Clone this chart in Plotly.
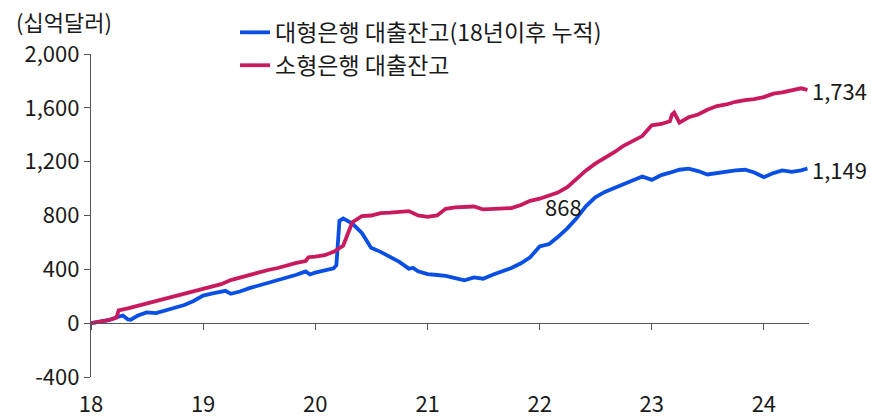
import plotly.graph_objects as go

# ---- data ----
large_dates = [
    "2018-01-01", "2018-02-01", "2018-03-01", "2018-03-20", "2018-04-01", "2018-04-15",
    "2018-05-01", "2018-05-10", "2018-06-01", "2018-07-01", "2018-08-01", "2018-09-01",
    "2018-10-01", "2018-11-01", "2018-12-01", "2019-01-01", "2019-02-01", "2019-03-01",
    "2019-03-15", "2019-04-01", "2019-05-01", "2019-06-01", "2019-07-01", "2019-08-01",
    "2019-09-01", "2019-10-01", "2019-11-01", "2019-12-01", "2019-12-15", "2020-01-01",
    "2020-02-01", "2020-03-01", "2020-03-10", "2020-03-20", "2020-04-01", "2020-04-15",
    "2020-05-01", "2020-06-01", "2020-07-01", "2020-08-01", "2020-09-01", "2020-10-01",
    "2020-11-01", "2020-11-15", "2020-12-01", "2021-01-01", "2021-02-01", "2021-03-01",
    "2021-04-01", "2021-05-01", "2021-06-01", "2021-07-01", "2021-08-01", "2021-09-01",
    "2021-10-01", "2021-11-01", "2021-12-01", "2022-01-01", "2022-02-01", "2022-03-01",
    "2022-04-01", "2022-05-01", "2022-06-01", "2022-07-01", "2022-08-01", "2022-09-01",
    "2022-10-01", "2022-11-01", "2022-12-01", "2023-01-01", "2023-02-01", "2023-03-01",
    "2023-04-01", "2023-05-01", "2023-06-01", "2023-07-01", "2023-08-01", "2023-09-01",
    "2023-10-01", "2023-11-01", "2023-12-01", "2024-01-01", "2024-02-01", "2024-03-01",
    "2024-04-01", "2024-05-01", "2024-05-22",
]
large_values = [
    0, 8, 22, 40, 50, 57,
    28, 25, 55, 80, 75, 95,
    110, 135, 165, 205, 222, 232,
    240, 218, 235, 260, 280, 300,
    316, 340, 360, 385, 362, 375,
    395, 408, 430, 760, 778, 760,
    740, 670, 560, 530, 490, 455,
    405, 410, 385, 365, 358, 352,
    335, 318, 340, 330, 360, 385,
    410, 445, 490, 570, 588, 640,
    705, 780, 870, 935, 975, 1005,
    1035, 1065, 1090, 1065, 1100, 1118,
    1140, 1148, 1130, 1105, 1115, 1128,
    1135, 1140, 1120, 1085, 1115, 1135,
    1125, 1135, 1149,
]

small_dates = [
    "2018-01-01", "2018-02-01", "2018-03-01", "2018-03-25", "2018-04-01", "2018-05-01",
    "2018-06-01", "2018-07-01", "2018-08-01", "2018-09-01", "2018-10-01", "2018-11-01",
    "2018-12-01", "2019-01-01", "2019-02-01", "2019-03-01", "2019-04-01", "2019-05-01",
    "2019-06-01", "2019-07-01", "2019-08-01", "2019-09-01", "2019-10-01", "2019-11-01",
    "2019-12-01", "2019-12-10", "2020-01-01", "2020-02-01", "2020-03-01", "2020-04-01",
    "2020-05-01", "2020-06-01", "2020-07-01", "2020-08-01", "2020-09-01", "2020-10-01",
    "2020-11-01", "2020-12-01", "2021-01-01", "2021-02-01", "2021-03-01", "2021-04-01",
    "2021-05-01", "2021-06-01", "2021-07-01", "2021-08-01", "2021-09-01", "2021-10-01",
    "2021-11-01", "2021-12-01", "2022-01-01", "2022-02-01", "2022-03-01", "2022-04-01",
    "2022-05-01", "2022-06-01", "2022-07-01", "2022-08-01", "2022-09-01", "2022-10-01",
    "2022-11-01", "2022-12-01", "2023-01-01", "2023-02-01", "2023-03-01", "2023-03-08",
    "2023-03-15", "2023-04-01", "2023-05-01", "2023-06-01", "2023-07-01", "2023-08-01",
    "2023-09-01", "2023-10-01", "2023-11-01", "2023-12-01", "2024-01-01", "2024-02-01",
    "2024-03-01", "2024-04-01", "2024-05-01", "2024-05-22",
]
small_values = [
    0, 12, 25, 40, 95, 110,
    128, 150, 168, 185, 200, 220,
    240, 255, 270, 290, 320, 340,
    360, 380, 395, 410, 430, 448,
    462, 490, 495, 505, 530, 575,
    750, 795, 800, 818, 822, 827,
    833, 800, 790, 800, 850, 860,
    864, 867, 845, 850, 852, 855,
    878, 909, 925, 945, 970, 1010,
    1075, 1135, 1185, 1225, 1270, 1318,
    1358, 1390, 1470, 1480, 1500, 1550,
    1565, 1490, 1530, 1550, 1585, 1613,
    1625, 1645, 1658, 1665, 1680, 1705,
    1715, 1728, 1745, 1734,
]

series_names = ["대형은행 대출잔고(18년이후 누적)", "소형은행 대출잔고"]
series_colors = ["#0a4fe3", "#c9195f"]
end_labels = ["1,149", "1,734"]
y_tickvals = [-400, 0, 400, 800, 1200, 1600, 2000]
y_ticktext = ["-400", "0", "400", "800", "1,200", "1,600", "2,000"]
x_tickvals = ["2018-01-01", "2019-01-01", "2020-01-01", "2021-01-01",
              "2022-01-01", "2023-01-01", "2024-01-01"]
x_ticktext = ["18", "19", "20", "21", "22", "23", "24"]
unit_label = "(십억달러)"
mid_label_text = "868"
mid_label_date = "2022-03-20"
mid_label_value = 868

FONT = "Noto Sans CJK KR, Malgun Gothic, sans-serif"
TXT = "#1a1a1a"
AX = "#555555"
X_RANGE = ["2018-01-01", "2024-05-27"]

fig = go.Figure()
fig.add_trace(go.Scatter(
    x=large_dates, y=large_values, mode="lines", name=series_names[0],
    line=dict(color=series_colors[0], width=3.8), xaxis="x", yaxis="y",
))
fig.add_trace(go.Scatter(
    x=small_dates, y=small_values, mode="lines", name=series_names[1],
    line=dict(color=series_colors[1], width=3.8), xaxis="x2", yaxis="y",
))

# end-value labels
for dates, vals, txt in [(large_dates, large_values, end_labels[0]),
                         (small_dates, small_values, end_labels[1])]:
    fig.add_annotation(x=dates[-1], y=vals[-1], text=txt, showarrow=False,
                       xanchor="left", yanchor="middle", xshift=3,
                       font=dict(family=FONT, size=22, color=TXT))
fig.add_annotation(x=mid_label_date, y=mid_label_value, text=mid_label_text, showarrow=False,
                   xanchor="center", yanchor="middle",
                   font=dict(family=FONT, size=22, color=TXT))
fig.add_annotation(xref="paper", yref="paper", x=-0.107, y=1.0, yshift=33,
                   text=unit_label, showarrow=False, xanchor="left", yanchor="middle",
                   font=dict(family=FONT, size=22, color=TXT))

fig.update_layout(
    width=871, height=417,
    margin=dict(l=91, r=62, t=53, b=40),
    plot_bgcolor="white", paper_bgcolor="white",
    font=dict(family=FONT, size=22, color=TXT),
    showlegend=True,
    legend=dict(x=0.2006, y=1.13, xanchor="left", yanchor="top",
                bgcolor="rgba(0,0,0,0)", font=dict(family=FONT, size=23, color=TXT),
                itemwidth=30, tracegroupgap=0),
    xaxis=dict(type="date", range=X_RANGE, tickvals=x_tickvals, ticktext=x_ticktext,
               showgrid=False, zeroline=False, showline=False, automargin=False,
               ticks="outside", ticklen=8, tickcolor="rgba(0,0,0,0)",
               tickfont=dict(family=FONT, size=22, color=TXT)),
    xaxis2=dict(type="date", range=X_RANGE, overlaying="x", anchor="free",
                position=1/6, side="bottom", tickvals=x_tickvals,
                showticklabels=False, showgrid=False, zeroline=False,
                showline=True, linecolor=AX, linewidth=1.2, automargin=False,
                ticks="outside", ticklen=6, tickcolor=AX, tickwidth=1.2),
    yaxis=dict(range=[-400, 2000], tickvals=y_tickvals, ticktext=y_ticktext,
               showgrid=False, zeroline=False, showline=True, linecolor=AX, linewidth=1.2,
               ticks="outside", ticklen=6, tickcolor=AX, tickwidth=1.2, automargin=False,
               tickfont=dict(family=FONT, size=22, color=TXT), domain=[0, 1]),
)

fig.write_html("out.html", config={"displayModeBar": False},
               post_script="document.body.style.margin='0';")
